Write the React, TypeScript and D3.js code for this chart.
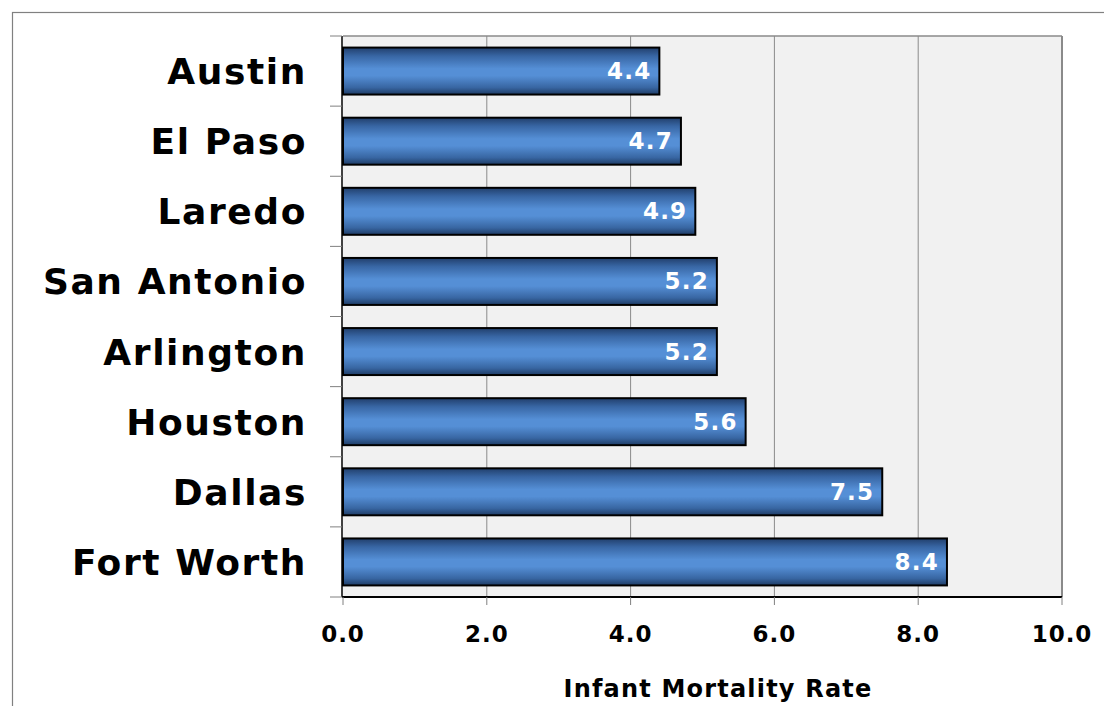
import * as d3 from "d3";

const cities = ["Austin", "El Paso", "Laredo", "San Antonio", "Arlington", "Houston", "Dallas", "Fort Worth"];
const rates = [4.4, 4.7, 4.9, 5.2, 5.2, 5.6, 7.5, 8.4];
const xTicks = [0, 2, 4, 6, 8, 10];

const W = 1104;
const H = 706;
const plot = { left: 343, right: 1062, top: 36, bottom: 597 };
const font = "'DejaVu Sans', Verdana, sans-serif";

export default function App() {
  const x = d3.scaleLinear().domain([0, 10]).range([plot.left, plot.right]);
  const y = d3
    .scaleBand<string>()
    .domain(cities)
    .range([plot.top, plot.bottom])
    .paddingInner(0.33)
    .paddingOuter(0.165);
  const step = y.step();
  const half = (step * y.paddingInner()) / 2;

  // boundaries between categories for tick marks
  const bounds = cities.map((c) => (y(c) as number) - half).concat([plot.bottom]);

  return (
    <svg
      width={W}
      height={H}
      style={{ position: "absolute", left: 0, top: 0, background: "#fff" }}
    >
      <defs>
        <linearGradient id="barGrad" x1="0" y1="0" x2="0" y2="1">
          <stop offset="0" stopColor="#213f6c" />
          <stop offset="0.18" stopColor="#3866a4" />
          <stop offset="0.45" stopColor="#558fd6" />
          <stop offset="0.6" stopColor="#558fd6" />
          <stop offset="0.85" stopColor="#3866a2" />
          <stop offset="1" stopColor="#1e3b64" />
        </linearGradient>
      </defs>

      {/* outer frame */}
      <rect x={12.5} y={12.5} width={W + 10} height={H + 10} fill="none" stroke="#808080" strokeWidth={1.2} />

      {/* plot background */}
      <rect x={plot.left} y={plot.top} width={plot.right - plot.left} height={plot.bottom - plot.top} fill="#f1f1f1" />

      {/* gridlines */}
      {xTicks.slice(1, -1).map((t) => (
        <line key={t} x1={x(t)} x2={x(t)} y1={plot.top} y2={plot.bottom} stroke="#8a8a8a" strokeWidth={1} />
      ))}

      {/* top and right border */}
      <line x1={plot.left} x2={plot.right} y1={plot.top} y2={plot.top} stroke="#8a8a8a" strokeWidth={1.5} />
      <line x1={plot.right} x2={plot.right} y1={plot.top} y2={plot.bottom} stroke="#8a8a8a" strokeWidth={2} />

      {/* bars */}
      {cities.map((c, i) => (
        <g key={c}>
          <rect
            x={x(0)}
            y={y(c)}
            width={x(rates[i]) - x(0)}
            height={y.bandwidth()}
            fill="url(#barGrad)"
            stroke="#000"
            strokeWidth={2}
          />
          <text
            x={x(rates[i]) - 8}
            y={(y(c) as number) + y.bandwidth() / 2 + 8}
            textAnchor="end"
            fill="#fff"
            fontFamily={font}
            fontWeight="bold"
            fontSize={23}
            letterSpacing={1.2}
          >
            {rates[i].toFixed(1)}
          </text>
          <text
            x={307}
            y={(y(c) as number) + y.bandwidth() / 2 + 13}
            textAnchor="end"
            fill="#000"
            fontFamily={font}
            fontWeight="bold"
            fontSize={36}
            letterSpacing={1.6}
          >
            {c}
          </text>
        </g>
      ))}

      {/* y axis */}
      <line x1={plot.left - 1} x2={plot.left - 1} y1={plot.top} y2={plot.bottom} stroke="#000" strokeWidth={1.5} />
      {bounds.map((b, i) => (
        <line key={i} x1={plot.left - 13} x2={plot.left - 1} y1={b} y2={b} stroke="#808080" strokeWidth={1} />
      ))}

      {/* x axis */}
      <line x1={plot.left - 1} x2={plot.right} y1={plot.bottom} y2={plot.bottom} stroke="#000" strokeWidth={2} />
      {xTicks.map((t) => (
        <g key={t}>
          <line x1={x(t)} x2={x(t)} y1={plot.bottom} y2={plot.bottom + 8} stroke="#808080" strokeWidth={1} />
          <text
            x={x(t)}
            y={642}
            textAnchor="middle"
            fill="#000"
            fontFamily={font}
            fontWeight="bold"
            fontSize={23}
            letterSpacing={1}
          >
            {t.toFixed(1)}
          </text>
        </g>
      ))}

      <text
        x={718}
        y={697}
        textAnchor="middle"
        fill="#000"
        fontFamily={font}
        fontWeight="bold"
        fontSize={24}
        letterSpacing={1.2}
      >
        Infant Mortality Rate
      </text>
    </svg>
  );
}
